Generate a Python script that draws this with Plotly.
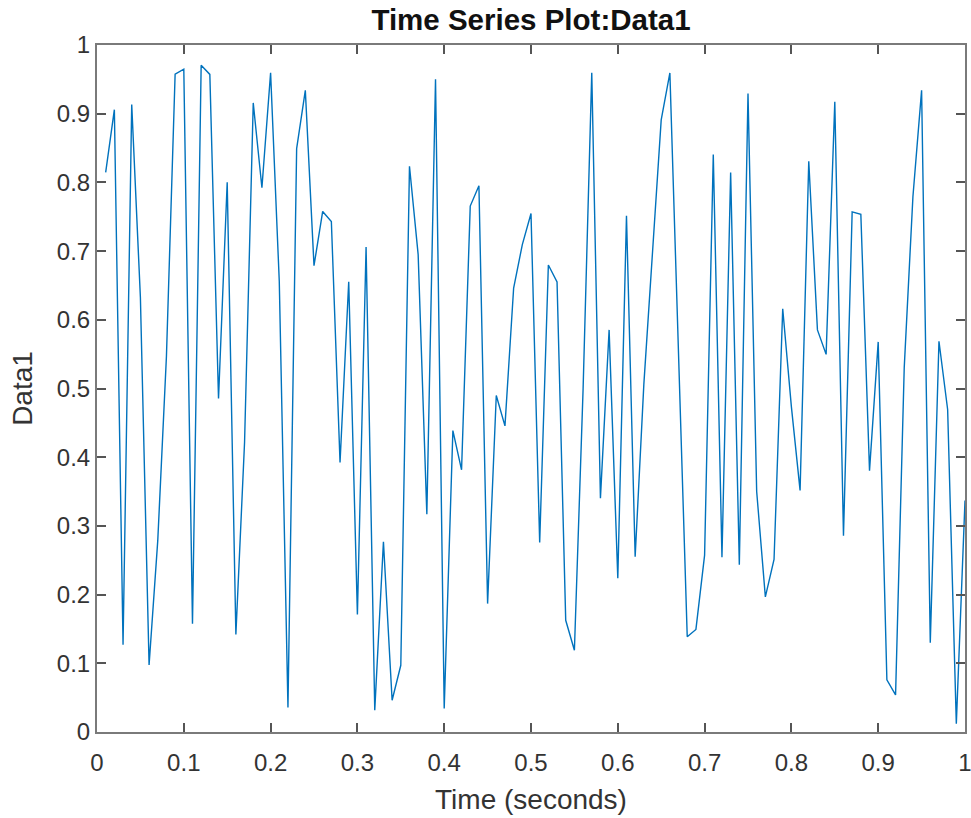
import plotly.graph_objects as go

time_s = [round(0.01 * (i + 1), 2) for i in range(100)]
data1 = [0.8147, 0.9058, 0.1270, 0.9134, 0.6324, 0.0975, 0.2785, 0.5469, 0.9575, 0.9649,
         0.1576, 0.9706, 0.9572, 0.4854, 0.8003, 0.1419, 0.4218, 0.9157, 0.7922, 0.9595,
         0.6557, 0.0357, 0.8491, 0.9340, 0.6787, 0.7577, 0.7431, 0.3922, 0.6555, 0.1712,
         0.7060, 0.0318, 0.2769, 0.0462, 0.0971, 0.8235, 0.6948, 0.3171, 0.9502, 0.0344,
         0.4387, 0.3816, 0.7655, 0.7952, 0.1869, 0.4898, 0.4456, 0.6463, 0.7094, 0.7547,
         0.2760, 0.6797, 0.6551, 0.1626, 0.1190, 0.4984, 0.9597, 0.3404, 0.5853, 0.2238,
         0.7513, 0.2551, 0.5060, 0.6991, 0.8909, 0.9593, 0.5472, 0.1386, 0.1493, 0.2575,
         0.8407, 0.2543, 0.8143, 0.2435, 0.9293, 0.3500, 0.1966, 0.2511, 0.6160, 0.4733,
         0.3517, 0.8308, 0.5853, 0.5497, 0.9172, 0.2858, 0.7572, 0.7537, 0.3804, 0.5678,
         0.0759, 0.0540, 0.5308, 0.7792, 0.9340, 0.1299, 0.5688, 0.4694, 0.0119, 0.3371]
x_ticks = [0, 0.1, 0.2, 0.3, 0.4, 0.5, 0.6, 0.7, 0.8, 0.9, 1]
x_tick_text = ["0", "0.1", "0.2", "0.3", "0.4", "0.5", "0.6", "0.7", "0.8", "0.9", "1"]
y_ticks = x_ticks
y_tick_text = x_tick_text

FONT = "Liberation Sans, Arial, Helvetica"

fig = go.Figure(go.Scatter(x=time_s, y=data1, mode="lines",
                           line=dict(color="#0072BD", width=1.4)))

axis_common = dict(showgrid=False, zeroline=False, showline=True, linecolor="#7a7a7a",
                   linewidth=2, mirror="ticks", ticks="inside", ticklen=9,
                   tickwidth=1.6, tickcolor="#555555", automargin=False,
                   ticklabeloverflow="allow",
                   tickfont=dict(family=FONT, size=24, color="#333333"),
                   title_font=dict(family=FONT, size=28, color="#333333"))

fig.update_xaxes(range=[0, 1], tickvals=x_ticks, ticktext=x_tick_text,
                 title_text="Time (seconds)", title_standoff=15, ticklabelstandoff=8,
                 **axis_common)
fig.update_yaxes(range=[0, 1], tickvals=y_ticks, ticktext=y_tick_text,
                 title_text="Data1", title_standoff=16, **axis_common)

fig.update_layout(
    width=971, height=818,
    margin=dict(l=97, r=6, t=45, b=86),
    plot_bgcolor="white", paper_bgcolor="white",
    showlegend=False,
    title=dict(text="<b>Time Series Plot:Data1</b>", x=(97 + 965) / 2 / 971, xanchor="center",
               xref="container", yref="container", y=1 - 20 / 818, yanchor="middle",
               font=dict(family=FONT, size=29.5, color="#111111")),
)

fig.write_html("out.html", config={"displayModeBar": False},
               post_script="document.body.style.margin='0px';document.body.style.overflow='hidden';")
